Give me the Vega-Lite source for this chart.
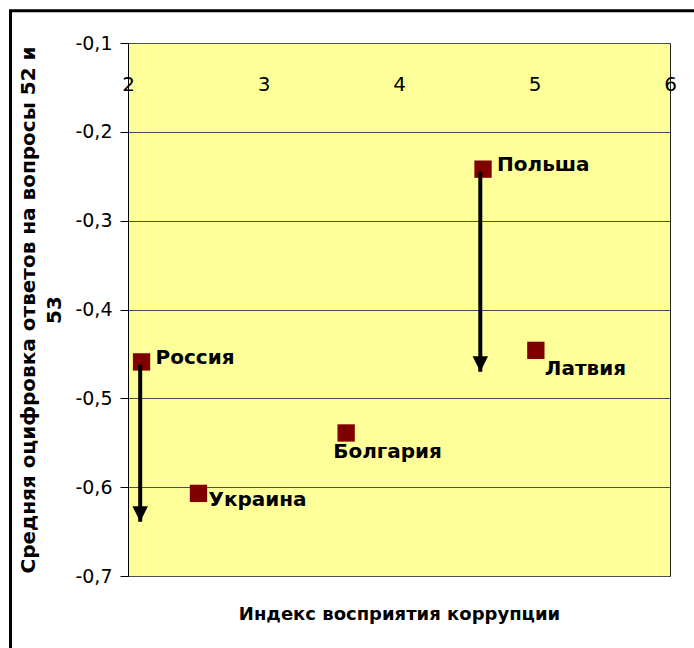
{
  "$schema": "https://vega.github.io/schema/vega-lite/v6.json",
  "width": 542,
  "height": 533,
  "autosize": "none",
  "padding": {"left": 128, "top": 43, "right": 24, "bottom": 72},
  "background": "white",
  "datasets": {
    "countries": [
      {"country": "Россия", "cpi": 2.1, "score": -0.459},
      {"country": "Украина", "cpi": 2.52, "score": -0.607},
      {"country": "Болгария", "cpi": 3.61, "score": -0.539},
      {"country": "Польша", "cpi": 4.62, "score": -0.242},
      {"country": "Латвия", "cpi": 5.01, "score": -0.446}
    ],
    "arrows": [
      {"country": "Россия", "cpi": 2.09, "score": -0.462, "to": -0.639},
      {"country": "Польша", "cpi": 4.6, "score": -0.245, "to": -0.47}
    ]
  },
  "layer": [
    {
      "data": {"name": "countries"},
      "mark": {"type": "point", "shape": "square", "filled": true, "size": 300, "color": "#800000", "opacity": 1},
      "encoding": {
        "x": {
          "field": "cpi",
          "type": "quantitative",
          "scale": {"domain": [2, 6], "nice": false, "zero": false},
          "axis": {
            "orient": "top",
            "offset": -41,
            "values": [2, 3, 4, 5, 6],
            "format": "d",
            "domain": false,
            "ticks": false,
            "tickSize": 0,
            "grid": false,
            "labelPadding": 0,
            "labelBaseline": "middle",
            "labelFont": "DejaVu Sans",
            "labelFontSize": 20,
            "labelColor": "black",
            "labelFlush": false,
            "labelBound": false,
            "title": "Индекс восприятия коррупции",
            "titleFont": "DejaVu Sans",
            "titleFontSize": 18,
            "titleFontWeight": "bold",
            "titleColor": "black",
            "titleBaseline": "middle",
            "titleAnchor": "middle",
            "titleY": 530
          }
        },
        "y": {
          "field": "score",
          "type": "quantitative",
          "scale": {"domain": [-0.7, -0.1], "nice": false, "zero": false},
          "axis": {
            "values": [-0.7, -0.6, -0.5, -0.4, -0.3, -0.2, -0.1],
            "labelExpr": "replace(replace(format(datum.value, '.1f'), '.', ','), '\u2212', '-')",
            "labelFont": "DejaVu Sans",
            "labelFontSize": 19,
            "labelColor": "black",
            "labelPadding": 8,
            "labelFlush": false,
            "tickSize": 8,
            "tickColor": "black",
            "domainColor": "black",
            "grid": true,
            "gridColor": "#4d4d4d",
            "gridWidth": 1,
            "title": ["Средняя оцифровка ответов на вопросы 52 и", "53"],
            "titleFont": "DejaVu Sans",
            "titleFontSize": 20,
            "titleFontWeight": "bold",
            "titleColor": "black",
            "titleLineHeight": 26,
            "titlePadding": 10
          }
        }
      }
    },
    {
      "data": {"values": [{}]},
      "mark": {"type": "rect", "fillOpacity": 0, "stroke": "black", "strokeWidth": 3},
      "encoding": {
        "x": {"datum": 1.133, "type": "quantitative"},
        "x2": {"datum": 7.5},
        "y": {"datum": -0.0636, "type": "quantitative"},
        "y2": {"datum": -0.9}
      }
    },
    {
      "data": {"name": "arrows"},
      "mark": {"type": "rule", "color": "black", "strokeWidth": 4},
      "encoding": {
        "x": {"field": "cpi", "type": "quantitative"},
        "y": {"field": "score", "type": "quantitative"},
        "y2": {"field": "to"}
      }
    },
    {
      "data": {"name": "arrows"},
      "mark": {"type": "point", "shape": "M-1,-2L1,-2L0,0Z", "filled": true, "size": 240, "color": "black", "opacity": 1},
      "encoding": {
        "x": {"field": "cpi", "type": "quantitative"},
        "y": {"field": "to", "type": "quantitative"}
      }
    },
    {
      "data": {"name": "countries"},
      "transform": [{"filter": "datum.country === 'Россия' || datum.country === 'Польша'"}],
      "mark": {"type": "text", "align": "left", "baseline": "middle", "dx": 14, "dy": -4, "font": "DejaVu Sans", "fontSize": 20, "fontWeight": "bold", "color": "black"},
      "encoding": {
        "x": {"field": "cpi", "type": "quantitative"},
        "y": {"field": "score", "type": "quantitative"},
        "text": {"field": "country"}
      }
    },
    {
      "data": {"name": "countries"},
      "transform": [{"filter": "datum.country === 'Украина'"}],
      "mark": {"type": "text", "align": "left", "baseline": "middle", "dx": 10, "dy": 7, "font": "DejaVu Sans", "fontSize": 20, "fontWeight": "bold", "color": "black"},
      "encoding": {
        "x": {"field": "cpi", "type": "quantitative"},
        "y": {"field": "score", "type": "quantitative"},
        "text": {"field": "country"}
      }
    },
    {
      "data": {"name": "countries"},
      "transform": [{"filter": "datum.country === 'Латвия'"}],
      "mark": {"type": "text", "align": "left", "baseline": "middle", "dx": 9, "dy": 19, "font": "DejaVu Sans", "fontSize": 20, "fontWeight": "bold", "color": "black"},
      "encoding": {
        "x": {"field": "cpi", "type": "quantitative"},
        "y": {"field": "score", "type": "quantitative"},
        "text": {"field": "country"}
      }
    },
    {
      "data": {"name": "countries"},
      "transform": [{"filter": "datum.country === 'Болгария'"}],
      "mark": {"type": "text", "align": "left", "baseline": "middle", "dx": -13, "dy": 19, "font": "DejaVu Sans", "fontSize": 20, "fontWeight": "bold", "color": "black"},
      "encoding": {
        "x": {"field": "cpi", "type": "quantitative"},
        "y": {"field": "score", "type": "quantitative"},
        "text": {"field": "country"}
      }
    }
  ],
  "config": {
    "view": {"fill": "#FFFF99", "stroke": "#222222", "strokeWidth": 1}
  }
}
